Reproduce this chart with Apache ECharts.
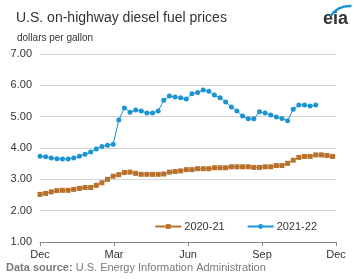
<!DOCTYPE html>
<html>
<head>
<meta charset="utf-8">
<script src="https://cdn.jsdelivr.net/npm/echarts@6/dist/echarts.min.js"></script>
<style>
  html, body { margin: 0; padding: 0; background: #fff; }
  #chart { width: 354px; height: 279px; }
</style>
</head>
<body>
<div id="chart"></div>
<script>
// weekly prices, first week of Dec onward
const prices2020 = [
    2.52, 2.55, 2.60, 2.64, 2.65, 2.65, 2.68, 2.71, 2.74, 2.74, 2.81, 2.89, 3.00,
    3.10, 3.15, 3.22, 3.23, 3.19, 3.16, 3.16, 3.16, 3.16, 3.17, 3.23, 3.25, 3.27,
    3.31, 3.31, 3.34, 3.34, 3.34, 3.37, 3.37, 3.37, 3.40, 3.40, 3.40, 3.40, 3.38,
    3.38, 3.40, 3.40, 3.44, 3.44, 3.51, 3.61, 3.70, 3.73, 3.73, 3.78, 3.78, 3.76, 3.73
];
const prices2021 = [
    3.74, 3.72, 3.68, 3.66, 3.65, 3.65, 3.68, 3.74, 3.80, 3.87, 3.97, 4.05, 4.09,
    4.12, 4.89, 5.28, 5.14, 5.21, 5.18, 5.12, 5.12, 5.18, 5.52, 5.66, 5.63, 5.60,
    5.56, 5.73, 5.77, 5.85, 5.81, 5.69, 5.60, 5.47, 5.31, 5.18, 5.02, 4.93, 4.93,
    5.16, 5.12, 5.05, 4.99, 4.94, 4.87, 5.24, 5.37, 5.37, 5.34, 5.37
];
const monthLabels = ['Dec', 'Mar', 'Jun', 'Sep', 'Dec'];
const seriesNames = ['2020-21', '2021-22'];

// x is in tenths of a week so the quarter ticks land on exact numbers
const toPairs = arr => arr.map((v, i) => [i * 10, v]);

const chart = echarts.init(document.getElementById('chart'));
const font = 'Arial, "Liberation Sans", sans-serif';

chart.setOption({
    animation: false,
    textStyle: { fontFamily: font },
    title: [
        {
            text: 'U.S. on-highway diesel fuel prices',
            left: 11, top: 6,
            textStyle: { fontSize: 14, fontWeight: 'normal', color: '#333', fontFamily: font }
        },
        {
            text: 'dollars per gallon',
            left: 12, top: 28,
            textStyle: { fontSize: 10, fontWeight: 'normal', color: '#333', fontFamily: font }
        }
    ],
    grid: { left: 40, right: 18, top: 54, bottom: 37 },
    legend: {
        data: seriesNames,
        bottom: 42, right: 32,
        itemWidth: 26, itemHeight: 6, itemGap: 22,
        textStyle: { fontSize: 11, color: '#333', fontFamily: font, padding: [0, 0, 0, -2] }
    },
    xAxis: {
        type: 'value',
        min: 0, max: 526, interval: 131.5,
        axisLine: { lineStyle: { color: '#888' } },
        axisTick: { show: true, length: 4, lineStyle: { color: '#888' } },
        splitLine: { show: false },
        axisLabel: {
            color: '#333', fontSize: 11, margin: 7,
            showMaxLabel: true, showMinLabel: true,
            formatter: (v, idx) => monthLabels[idx] || ''
        }
    },
    yAxis: {
        type: 'value',
        min: 1, max: 7, interval: 1,
        axisLine: { show: false },
        axisTick: { show: false },
        axisLabel: {
            color: '#333', fontSize: 11, margin: 8,
            formatter: v => v.toFixed(2)
        },
        splitLine: { lineStyle: { color: '#d4d4d4', width: 1 } }
    },
    series: [
        {
            name: seriesNames[0],
            type: 'line',
            data: toPairs(prices2020),
            symbol: 'rect', symbolSize: 5,
            itemStyle: { color: '#b8702b' },
            lineStyle: { color: '#b8702b', width: 1 }
        },
        {
            name: seriesNames[1],
            type: 'line',
            data: toPairs(prices2021),
            symbol: 'circle', symbolSize: 5,
            itemStyle: { color: '#1b95d0' },
            lineStyle: { color: '#1b95d0', width: 1 }
        }
    ],
    graphic: [
        {
            type: 'text', left: 323, top: 10,
            style: { text: 'eia', fontSize: 18, fontWeight: 'bold', fill: '#333', fontFamily: font }
        },
        {
            type: 'arc',
            shape: { cx: 350, cy: 30, r: 24, startAngle: Math.PI * 1.2, endAngle: Math.PI * 1.52 },
            style: { stroke: '#1b95d0', lineWidth: 2.5, fill: null }
        },
        {
            type: 'text', left: 6, top: 262,
            style: {
                text: '{b|Data source:} U.S. Energy Information Administration',
                fontSize: 11, fill: '#7a7a7a', fontFamily: font,
                rich: { b: { fontWeight: 'bold', fontSize: 11, fill: '#7a7a7a', fontFamily: font } }
            }
        }
    ]
});
</script>
</body>
</html>
